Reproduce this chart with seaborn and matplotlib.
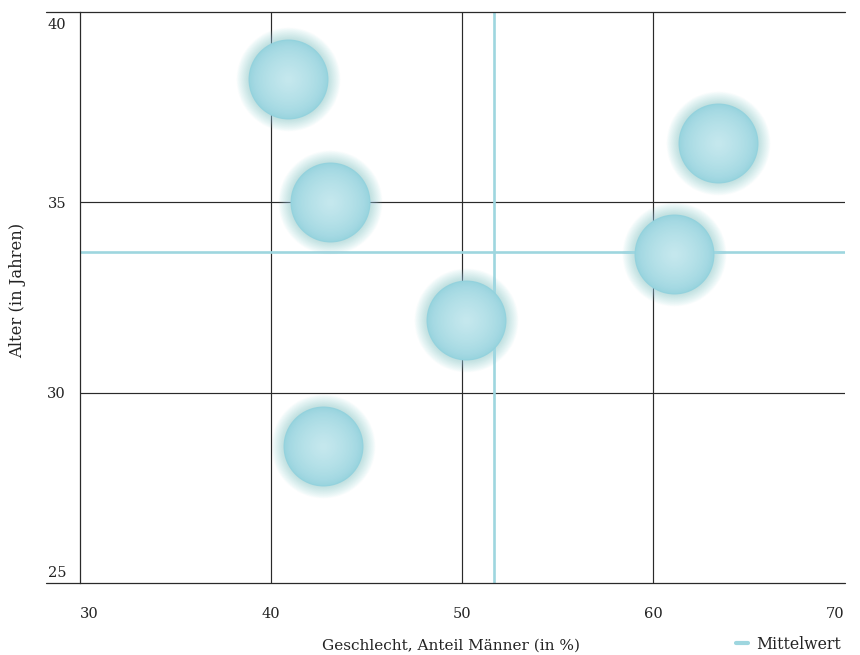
import numpy as np
import pandas as pd
import matplotlib
matplotlib.use("Agg")
import matplotlib.pyplot as plt
import matplotlib.transforms as mtransforms
from matplotlib.colors import to_rgb
import seaborn as sns

# Share of men (%) and average age (years) per group
anteil_maenner = [40.9, 43.1, 50.2, 42.7, 63.4, 61.1]
alter = [38.25, 35.0, 31.9, 28.6, 36.55, 33.65]
mittel_x = 51.7
mittel_y = 33.7

x_ticks = [30, 40, 50, 60, 70]
y_ticks = [25, 30, 35, 40]

df = pd.DataFrame({"maenner": anteil_maenner, "alter": alter})

sns.set_theme(style="white")
plt.rcParams["font.family"] = ["DejaVu Serif"]

fig = plt.figure(figsize=(8.6, 6.55), dpi=100)
ax = fig.add_axes([80 / 860, 1 - 583 / 655, 765 / 860, 571 / 655])
ax.set_xlim(30, 70.05)
ax.set_ylim(25, 40)

grid_col = "#2a2a2a"
mean_col = "#9ed6df"
text_col = "#222222"

# interior grid lines
for v in x_ticks[1:-1]:
    ax.axvline(v, color=grid_col, lw=0.85, zorder=1)
for v in y_ticks[1:-1]:
    ax.axhline(v, color=grid_col, lw=0.85, zorder=1)

# top and bottom rules reach a little past the left axis
ytr = ax.get_yaxis_transform()
for v in (y_ticks[0], y_ticks[-1]):
    ax.plot([-0.0445, 1.0], [v, v], transform=ytr, color=grid_col,
            lw=0.9, clip_on=False, zorder=3)

for s in ("top", "right", "bottom"):
    ax.spines[s].set_visible(False)
ax.spines["left"].set_color(grid_col)
ax.spines["left"].set_linewidth(0.9)

# mean lines
ax.axvline(mittel_x, color=mean_col, lw=1.9, zorder=2, label="Mittelwert")
ax.axhline(mittel_y, color=mean_col, lw=1.9, zorder=2)

# bubbles: soft glow, then a radial gradient disc
R = 40 * 0.72  # disc radius in points
edge = np.array(to_rgb("#94d2dd"))
center = np.array(to_rgb("#c4e7ed"))
glow_steps = 30
for i in range(glow_steps):
    r = R + 12 * 0.72 * (1 - i / glow_steps)
    sns.scatterplot(data=df, x="maenner", y="alter", ax=ax, s=(2 * r) ** 2,
                    color="#9fd7e1", alpha=0.025, linewidth=0, zorder=4,
                    legend=False)
steps = 30
for i in range(steps):
    t = i / (steps - 1)
    r = R * (1 - 0.92 * t)
    col = edge + (center - edge) * (t ** 0.6)
    sns.scatterplot(data=df, x="maenner", y="alter", ax=ax, s=(2 * r) ** 2,
                    color=tuple(col), linewidth=0, zorder=5 + i * 0.01,
                    legend=False)

# ticks and labels
ax.set_xticks(x_ticks)
ax.set_xticklabels([str(v) for v in x_ticks], fontsize=10.5, color=text_col)
ax.set_yticks(y_ticks)
ax.set_yticklabels([str(v) for v in y_ticks], fontsize=10.5, color=text_col)
ax.tick_params(axis="both", length=0)
ax.tick_params(axis="x", pad=17)
ax.tick_params(axis="y", pad=10)
xl = ax.get_xticklabels()
xl[0].set_horizontalalignment("left")
xl[-1].set_horizontalalignment("right")
yl = ax.get_yticklabels()
yl[0].set_verticalalignment("bottom")
yl[0].set_transform(yl[0].get_transform() +
                    mtransforms.ScaledTranslation(0, 2 / 72, fig.dpi_scale_trans))
yl[-1].set_verticalalignment("top")
yl[-1].set_transform(yl[-1].get_transform() +
                     mtransforms.ScaledTranslation(0, -4 / 72, fig.dpi_scale_trans))

ax.set_xlabel("Geschlecht, Anteil Männer (in %)", fontsize=11.0, color=text_col,
              labelpad=12)
ax.xaxis.set_label_coords(0.485, -0.098)
ax.set_ylabel("Alter (in Jahren)", fontsize=11.8, color=text_col, labelpad=14)
ax.yaxis.set_label_coords(-0.071, 0.513)

leg = fig.legend(loc="lower right", bbox_to_anchor=(852 / 860, -0.013),
                 frameon=False, fontsize=11.3, handlelength=0.8,
                 handletextpad=0.5, borderaxespad=0.3)
for h in leg.get_lines():
    h.set_linewidth(3)
for t in leg.get_texts():
    t.set_color(text_col)

fig.savefig("out.png", dpi=100, facecolor="white")
